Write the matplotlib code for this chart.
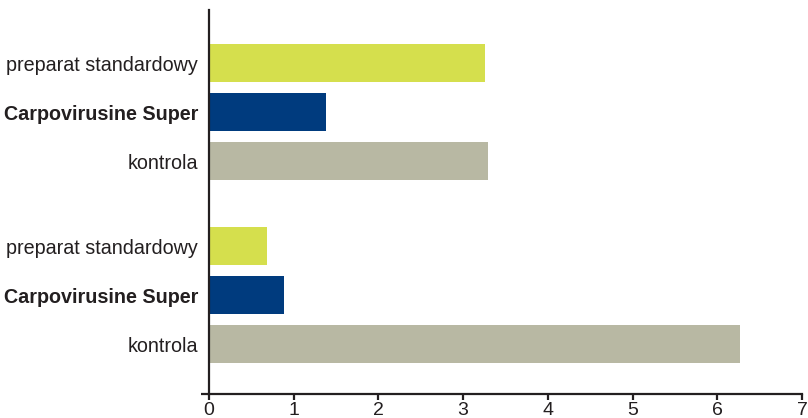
import numpy as np
import matplotlib.pyplot as plt

# dane
labels = ["kontrola", "Carpovirusine Super", "preparat standardowy",
          "kontrola", "Carpovirusine Super", "preparat standardowy"]
values = [6.27, 0.88, 0.68, 3.29, 1.38, 3.26]
positions = [0, 1, 2, 3.73, 4.73, 5.73]
colors = ["#B8B8A3", "#003B7E", "#D5DF4D", "#B8B8A3", "#003B7E", "#D5DF4D"]
xticks = [0, 1, 2, 3, 4, 5, 6, 7]

plt.rcParams['font.family'] = ['Liberation Sans', 'DejaVu Sans']
text_color = "#231F20"

fig = plt.figure(figsize=(8.08, 4.18), dpi=100)
ax = fig.add_axes([209 / 808, 1 - 394 / 418, 593 / 808, 384 / 418])

ax.barh(positions, values, height=0.78, color=colors)

ax.set_xlim(0, 7)
ax.set_ylim(-1.02, 6.82)
ax.set_xticks(xticks)
ax.set_xticklabels([str(t) for t in xticks], fontsize=14, color=text_color)
ax.set_yticks(positions)
ax.set_yticklabels(labels, fontsize=14.2, color=text_color)
for lab in ax.get_yticklabels():
    if lab.get_text() == "Carpovirusine Super":
        lab.set_fontweight("bold")

ax.tick_params(axis='y', length=0, pad=8)
ax.tick_params(axis='x', length=4, width=1.6, color=text_color, pad=1.5, direction='out')
# mala kreska w lewo na dole osi y
ax.set_yticks([-1.02], minor=True)
ax.tick_params(axis='y', which='minor', length=6, width=1.6, color=text_color)

for side in ['top', 'right']:
    ax.spines[side].set_visible(False)
for side in ['left', 'bottom']:
    ax.spines[side].set_linewidth(1.6)
    ax.spines[side].set_color(text_color)

fig.savefig("out.png", dpi=100)
